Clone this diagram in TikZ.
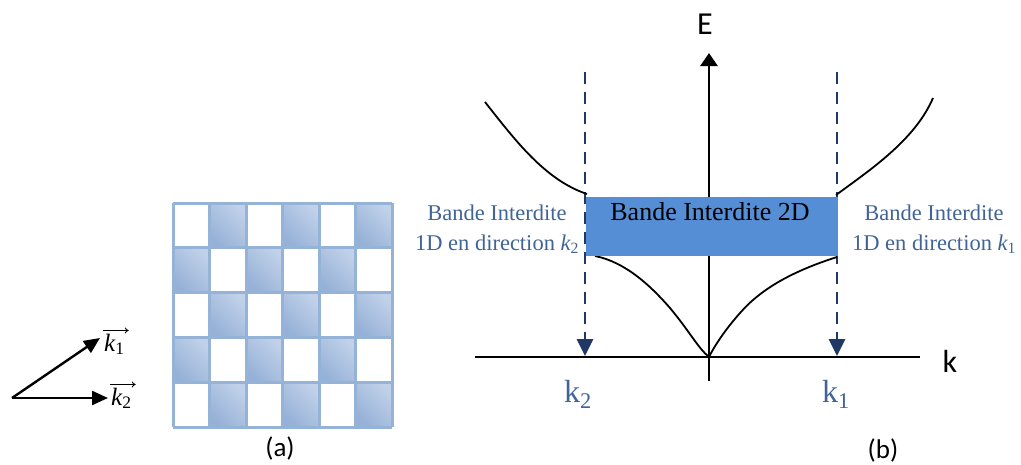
\documentclass[tikz,border=0pt]{standalone}
\usepackage{fontspec}
\setmainfont{Liberation Serif}
\newfontfamily\calibrifont{Carlito}
\usetikzlibrary{arrows.meta}
\definecolor{gridblue}{RGB}{149,179,215}
\definecolor{celldark}{RGB}{150,177,215}
\definecolor{cellmid}{RGB}{192,209,233}
\definecolor{celllight}{RGB}{230,237,247}
\definecolor{bandblue}{RGB}{85,142,213}
\definecolor{navy}{RGB}{31,56,100}
\definecolor{txtblue}{RGB}{65,100,150}
\tikzset{
  axisline/.style={line width=2.6pt, black},
  curveline/.style={line width=1.8pt, black},
  dasharrow/.style={line width=2.8pt, navy, dash pattern=on 12pt off 8pt, -{Triangle[length=17pt,width=16pt]}},
  vecarrow/.style={line width=2.4pt, black, -{Triangle[length=16pt,width=14pt]}},
  overarrow/.style={line width=0.9pt, black, -{To[length=4pt,width=6pt]}},
  sidelab/.style={align=center, text=txtblue, font=\fontsize{22.5}{30}\selectfont, inner sep=0pt},
  calib/.style={font=\calibrifont\fontsize{32}{36}\selectfont, inner sep=0pt},
  capt/.style={font=\calibrifont\fontsize{27}{30}\selectfont, inner sep=0pt},
  kbig/.style={text=txtblue, font=\fontsize{32}{36}\selectfont, inner sep=0pt, anchor=base},
  veclab/.style={font=\fontsize{25}{28}\selectfont, inner sep=0pt, anchor=base west},
  gapbox/.style={fill=bandblue, draw=none, minimum width=252pt, minimum height=59pt, inner sep=0pt},
  cellshade/.style={left color=cellmid, middle color=celllight, right color=celldark, shading angle=-45},
  gridline/.style={line width=3pt, gridblue}
}
\begin{document}
\begin{tikzpicture}[x=1pt,y=-1pt]
\useasboundingbox (0,0) rectangle (1021,464);
% ---------- (a) checkerboard ----------
\foreach \r in {0,...,4}{
  \foreach \c in {0,...,5}{
    \pgfmathtruncatemacro{\odd}{mod(\r+\c,2)}
    \ifnum\odd=1
      \shade[cellshade] (173+\c*36.5,203+\r*44.8) rectangle (173+\c*36.5+36.5,203+\r*44.8+44.8);
    \fi
  }
}
\foreach \c in {0,...,6}{
  \draw[gridline] (173+\c*36.5,203) -- (173+\c*36.5,427);
}
\foreach \r in {0,...,5}{
  \draw[gridline] (173,203+\r*44.8) -- (392,203+\r*44.8);
}
% ---------- vectors ----------
\coordinate (O) at (12,398);
\coordinate (K1) at (100,338);
\coordinate (K2) at (108,398);
\draw[vecarrow] (O) -- (K1);
\draw[vecarrow] (O) -- (K2);
\node[veclab] (k1v) at (104,351) {\itshape k\textsubscript{\upshape 1}};
\node[veclab] (k2v) at (111,405) {\itshape k\textsubscript{\upshape 2}};
\draw[overarrow] ([xshift=-1pt,yshift=3pt]k1v.north west) -- ([xshift=4pt,yshift=3pt]k1v.north east);
\draw[overarrow] ([xshift=-1pt,yshift=3pt]k2v.north west) -- ([xshift=4pt,yshift=3pt]k2v.north east);
\node[capt] (la) at (280,448) {(a)};
% ---------- (b) band diagram ----------
\coordinate (Xl) at (475,357);
\coordinate (Xr) at (920,357);
\coordinate (Yb) at (709,381);
\coordinate (Yt) at (709,53);
\coordinate (D2t) at (585,72);
\coordinate (D2b) at (585,356);
\coordinate (D1t) at (837,72);
\coordinate (D1b) at (837,356);
\draw[dasharrow] (D2t) -- (D2b);
\draw[dasharrow] (D1t) -- (D1b);
\draw[axisline] (Xl) -- (Xr);
\draw[axisline, -{Triangle[length=13pt,width=17pt]}] (Yb) -- (Yt);
% curves
\draw[curveline] (485,102) .. controls (515,140) and (545,180) .. (587,194);
\draw[curveline] (836,195) .. controls (870,170) and (915,140) .. (933,98);
\draw[curveline] (595,256) .. controls (625,262) and (650,285) .. (670,308) .. controls (690,332) and (698,348) .. (709,357);
\draw[curveline] (837,257) .. controls (790,272) and (760,290) .. (740,313) .. controls (725,330) and (715,345) .. (709,357);
% band gap
\node[gapbox] (gap) at (711.5,226.5) {};
\node[font=\fontsize{26}{30}\selectfont, inner sep=0pt, anchor=base] (gaptxt) at (710,220) {Bande Interdite 2D};
\node[sidelab] (lab2) at (497,229) {Bande Interdite\\1D en direction {\itshape k}\textsubscript{2}};
\node[sidelab] (lab1) at (934,229) {Bande Interdite\\1D en direction {\itshape k}\textsubscript{1}};
\node[kbig] (k2) at (578,402) {k\textsubscript{2}};
\node[kbig] (k1) at (836,402) {k\textsubscript{1}};
\node[calib] (E) at (705,24) {E};
\node[calib] (k) at (950,361) {k};
\node[capt] (lb) at (883,450) {(b)};
\end{tikzpicture}
\end{document}
